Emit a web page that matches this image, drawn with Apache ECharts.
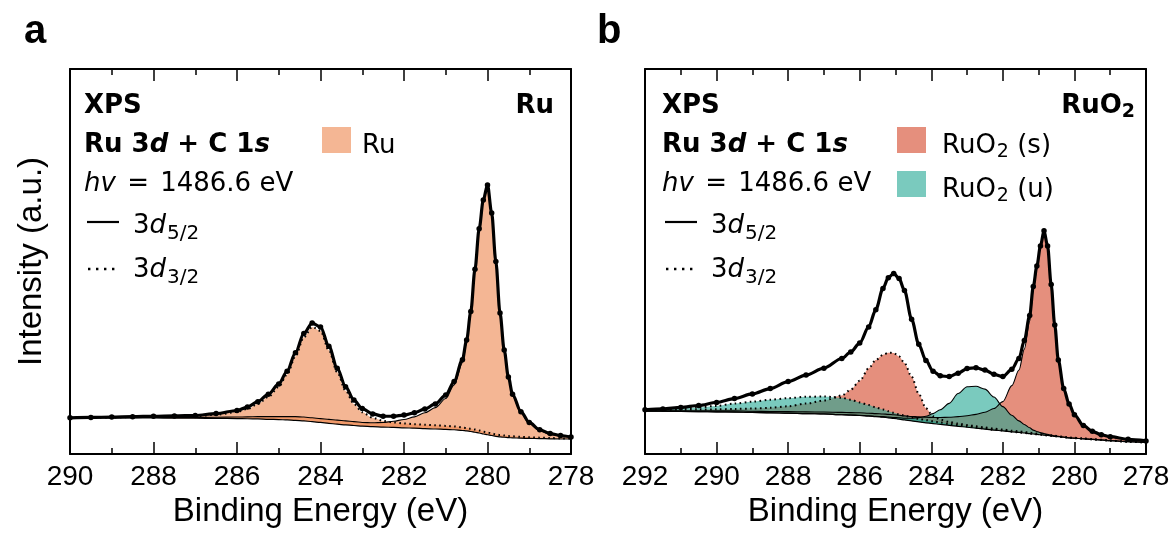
<!DOCTYPE html>
<html><head><meta charset="utf-8">
<script src="https://cdn.jsdelivr.net/npm/echarts@6/dist/echarts.min.js"></script>
<style>html,body{margin:0;padding:0;background:#fff}#c{width:1173px;height:538px}</style>
</head><body><div id="c"></div><script>
// ---------- Panel a (Ru) ----------
const energyA = [290,289.5,289,288.5,288,287.5,287,286.5,286,285.75,285.5,285.25,285,284.8,284.6,284.4,284.2,284.0,283.8,283.6,283.4,283.2,283.0,282.75,282.5,282.25,282.0,281.75,281.5,281.25,281.0,280.8,280.6,280.5,280.4,280.3,280.2,280.1,280.0,279.9,279.8,279.7,279.6,279.5,279.4,279.2,279.0,278.75,278.5,278.25,278.0];
const dataA = [9.4,9.5,9.6,9.7,9.8,9.9,10.0,10.5,11.3,12.2,13.6,15.5,18.2,21.5,26.3,31.3,34.0,33.0,28.0,22.3,17.5,14.0,11.8,10.4,9.8,9.8,10.1,10.7,11.7,13.0,15.3,18.8,24.5,29.6,37.0,48.0,58.5,66.0,69.9,62.6,50.0,36.6,27.0,20.0,15.5,11.0,8.2,6.3,5.3,4.8,4.4];
const bgA = [9.3,9.35,9.4,9.4,9.35,9.3,9.3,9.25,9.2,9.15,9.1,9.0,8.95,8.85,8.75,8.6,8.4,8.2,7.95,7.75,7.55,7.4,7.25,7.1,7.0,6.9,6.8,6.7,6.6,6.5,6.4,6.3,6.1,6.0,5.85,5.65,5.45,5.2,5.0,4.8,4.6,4.45,4.35,4.25,4.2,4.1,4.05,4.0,3.95,3.9,3.9];
const ru52A = [0.05,0.05,0.1,0.1,0.15,0.2,0.2,0.3,0.4,0.5,0.6,0.7,0.75,0.85,0.95,1.0,1.0,1.0,1.05,1.05,1.05,1.0,0.95,1.0,1.2,1.6,2.15,2.95,4.1,5.55,8.0,11.65,17.6,22.85,30.45,41.65,52.4,60.2,64.3,57.25,44.9,31.65,22.2,15.35,10.9,6.55,3.85,2.05,1.15,0.75,0.4];
const ru32A = [0.0,0.05,0.1,0.2,0.3,0.4,0.5,0.95,1.7,2.55,3.9,5.8,8.5,11.8,16.6,21.7,24.6,23.8,19.0,13.5,8.9,5.6,3.6,2.3,1.6,1.3,1.15,1.05,1.0,0.95,0.9,0.85,0.8,0.75,0.7,0.7,0.65,0.6,0.6,0.55,0.5,0.5,0.45,0.4,0.4,0.35,0.3,0.25,0.2,0.15,0.1];

// ---------- Panel b (RuO2) ----------
const energyB = [292,291.5,291,290.5,290,289.5,289,288.5,288,287.5,287,286.5,286.25,286,285.75,285.55,285.35,285.2,285.05,284.9,284.75,284.55,284.35,284.15,283.95,283.75,283.5,283.25,283,282.75,282.5,282.25,282,281.75,281.55,281.4,281.25,281.15,281.05,280.95,280.85,280.75,280.65,280.55,280.45,280.3,280.15,280,279.75,279.5,279.25,279,278.5,278];
const dataB = [11.5,11.7,12.1,12.6,13.4,14.4,15.6,17.0,18.8,20.5,22.3,24.8,26.5,28.8,33.0,37.5,43.0,45.8,46.9,45.6,42.5,35.0,28.5,24.3,21.5,20.3,20.1,21.0,22.2,22.4,21.8,20.7,20.1,22.0,24.8,29.5,36.0,43.5,48.8,54.0,58.0,54.0,44.0,33.5,24.4,17.0,13.0,10.2,7.4,5.9,5.0,4.5,3.8,3.4];
const bgB = [11.1,11.1,11.05,11.0,10.95,10.9,10.8,10.7,10.6,10.5,10.4,10.2,10.1,10.0,9.85,9.7,9.55,9.4,9.25,9.05,8.85,8.6,8.35,8.1,7.9,7.7,7.45,7.2,6.95,6.7,6.45,6.2,6.0,5.75,5.6,5.45,5.3,5.2,5.1,5.0,4.9,4.8,4.7,4.6,4.5,4.35,4.2,4.1,3.95,3.8,3.65,3.45,3.2,3.0];
const s52B = [0.15,0.15,0.2,0.2,0.25,0.3,0.3,0.35,0.4,0.45,0.5,0.6,0.65,0.7,0.75,0.8,0.85,0.9,0.95,1.0,1.05,1.15,1.3,1.45,1.6,1.8,2.1,2.5,3.0,3.6,4.4,5.6,7.6,12.0,16.2,21.8,29.2,37.3,42.9,48.4,52.7,48.9,39.1,28.7,19.8,12.5,8.7,6.0,3.4,2.0,1.3,1.0,0.6,0.4];
const s32B = [0.3,0.35,0.45,0.55,0.65,0.8,1.0,1.3,1.8,2.6,3.5,5.0,6.6,9.0,12.4,14.7,16.2,16.9,17.0,16.3,14.8,11.5,7.3,3.8,1.9,1.25,0.9,0.7,0.6,0.5,0.45,0.4,0.35,0.3,0.3,0.25,0.25,0.2,0.2,0.2,0.2,0.15,0.15,0.15,0.1,0.1,0.1,0.1,0.1,0.05,0.05,0.05,0,0];
const u52B = [0,0,0,0,0,0,0,0,0,0,0,0,0.02,0.05,0.07,0.1,0.15,0.2,0.25,0.35,0.45,0.7,1.1,1.7,2.6,3.8,5.7,8.5,10.5,10.9,10.4,8.6,6.3,4.3,3.0,2.2,1.5,1.0,0.75,0.55,0.4,0.3,0.2,0.15,0.1,0.05,0,0,0,0,0,0,0,0];
const u32B = [0.3,0.45,0.8,1.1,1.55,2.2,2.8,3.4,3.9,4.35,4.55,4.4,4.0,3.4,2.85,2.4,2.0,1.7,1.45,1.25,1.1,0.95,0.8,0.7,0.6,0.5,0.4,0.3,0.25,0.2,0.15,0.1,0.1,0.05,0,0,0,0,0,0,0,0,0,0,0,0,0,0,0,0,0,0,0,0];

const xRangeA = [278, 290];
const xRangeB = [278, 292];
const xTickStep = 2;
const yRange = [0, 100];

const COL_RU = 'rgba(236,134,76,0.6)';
const COL_S = 'rgba(212,68,38,0.6)';
const COL_U = 'rgba(33,167,147,0.6)';
const SM = 0.3;
const TICK_FONT = 'Liberation Sans';
const TXT_FONT = 'DejaVu Sans';

// rows are [intensity, energy] so that stacking happens on the intensity dimension
function rows(xs, ys) { return xs.map((x, i) => [ys[i], x]); }
const ENC = { x: 1, y: 0 };

function band(stackName, ax, xs, base, comp, fill, dotted) {
  return [
    { type: 'line', xAxisIndex: ax, yAxisIndex: ax, stack: stackName, data: rows(xs, base), encode: ENC,
      symbol: 'none', smooth: SM, smoothMonotone: 'x', lineStyle: { opacity: 0, width: 0 }, silent: true, z: 2 },
    { type: 'line', xAxisIndex: ax, yAxisIndex: ax, stack: stackName, data: rows(xs, comp), encode: ENC,
      symbol: 'none', smooth: SM, smoothMonotone: 'x', areaStyle: { color: fill, opacity: 1 },
      lineStyle: dotted ? { color: '#000', width: 2, type: [1.6, 3.4] } : { color: '#000', width: 1.1 },
      silent: true, z: 2 }
  ];
}
function bgLine(ax, xs, ys) {
  return { type: 'line', xAxisIndex: ax, yAxisIndex: ax, data: rows(xs, ys), encode: ENC, symbol: 'none',
    smooth: SM, smoothMonotone: 'x', lineStyle: { color: '#000', width: 1.2 }, silent: true, z: 3 };
}
function dataLine(ax, xs, ys) {
  return { type: 'line', xAxisIndex: ax, yAxisIndex: ax, data: rows(xs, ys), encode: ENC, symbol: 'circle', symbolSize: 5.5,
    smooth: SM, smoothMonotone: 'x', itemStyle: { color: '#000' }, lineStyle: { color: '#000', width: 3.2 },
    silent: true, z: 5 };
}
function xAx(grid, range, top, withName) {
  return {
    type: 'value', gridIndex: grid, min: range[0], max: range[1], interval: xTickStep, inverse: true,
    position: top ? 'top' : 'bottom',
    axisLine: { show: true, onZero: false, lineStyle: { color: '#000', width: 2 } },
    axisTick: { show: true, inside: true, length: 12, lineStyle: { color: '#000', width: 1.5 } },
    minorTick: { show: true, splitNumber: 2, length: 6, lineStyle: { color: '#000', width: 1.5 } },
    axisLabel: { show: !top, fontSize: 28, color: '#000', fontFamily: TICK_FONT, margin: 9 },
    splitLine: { show: false }, minorSplitLine: { show: false },
    name: withName ? 'Binding Energy (eV)' : '', nameLocation: 'middle', nameGap: 37,
    nameTextStyle: { fontSize: 33, color: '#000', fontFamily: TICK_FONT }
  };
}
function yAx(grid, right, withName) {
  return {
    type: 'value', gridIndex: grid, min: yRange[0], max: yRange[1], position: right ? 'right' : 'left',
    axisLine: { show: true, onZero: false, lineStyle: { color: '#000', width: 2 } },
    axisTick: { show: false }, axisLabel: { show: false }, splitLine: { show: false },
    name: withName ? 'Intensity (a.u.)' : '', nameLocation: 'middle', nameGap: 22,
    nameTextStyle: { fontSize: 33, color: '#000', fontFamily: TICK_FONT }
  };
}

const series = [].concat(
  band('a52', 0, energyA, bgA, ru52A, COL_RU, false),
  band('a32', 0, energyA, bgA, ru32A, COL_RU, true),
  [bgLine(0, energyA, bgA), dataLine(0, energyA, dataA)],
  band('s52', 2, energyB, bgB, s52B, COL_S, false),
  band('s32', 2, energyB, bgB, s32B, COL_S, true),
  band('u52', 2, energyB, bgB, u52B, COL_U, false),
  band('u32', 2, energyB, bgB, u32B, COL_U, true),
  [bgLine(2, energyB, bgB), dataLine(2, energyB, dataB)]
);

const F = 26;
const rich = {
  n: { fontFamily: TXT_FONT, fontSize: F, color: '#000', verticalAlign: 'middle' },
  i: { fontFamily: TXT_FONT, fontSize: F, color: '#000', fontStyle: 'italic', verticalAlign: 'middle' },
  eq: { fontFamily: TXT_FONT, fontSize: F, color: '#000', verticalAlign: 'middle', padding: [0, 3, 0, 3] },
  b: { fontFamily: TXT_FONT, fontSize: F, color: '#000', fontWeight: 'bold', verticalAlign: 'middle' },
  bi: { fontFamily: TXT_FONT, fontSize: F, color: '#000', fontWeight: 'bold', fontStyle: 'italic', verticalAlign: 'middle' },
  sub: { fontFamily: TXT_FONT, fontSize: 20, color: '#000', verticalAlign: 'middle', padding: [16, 0, 0, 1] },
  bsub: { fontFamily: TXT_FONT, fontSize: 19, color: '#000', fontWeight: 'bold', verticalAlign: 'middle', padding: [12, 0, 0, 0] },
  nsub: { fontFamily: TXT_FONT, fontSize: 19, color: '#000', verticalAlign: 'middle', padding: [12, 0, 0, 1] }
};
function txt(x, y, text, align) {
  return { type: 'text', x: x, y: y, silent: true, z: 50,
    style: { text: text, rich: rich, align: align || 'left', verticalAlign: 'middle' } };
}
function rect(x, y, w, h, c) {
  return { type: 'rect', shape: { x: x, y: y, width: w, height: h }, style: { fill: c }, silent: true, z: 50 };
}
function seg(x1, x2, y, dotted) {
  return { type: 'line', shape: { x1: x1, y1: y, x2: x2, y2: y }, silent: true, z: 50,
    style: dotted ? { stroke: '#000', lineWidth: 2.4, lineDash: [2.4, 5.6] } : { stroke: '#000', lineWidth: 2.2 } };
}
function legendBlock(x0) {
  return [
    txt(x0, 106, '{b|XPS}'),
    txt(x0, 145, '{b|Ru 3}{bi|d}{b| + C 1}{bi|s}'),
    txt(x0, 184, '{i|hv}{n| }{eq|=}{n| 1486.6 eV}'),
    seg(x0 + 3, x0 + 35, 222, false),
    txt(x0 + 49, 226, '{n|3}{i|d}{sub|5/2}'),
    seg(x0 + 4, x0 + 33, 269, true),
    txt(x0 + 49, 270, '{n|3}{i|d}{sub|3/2}')
  ];
}
const graphics = [
  { type: 'text', x: 24, y: 32, silent: true, z: 50,
    style: { text: 'a', fontFamily: TICK_FONT, fontWeight: 'bold', fontSize: 40, fill: '#000', verticalAlign: 'middle' } },
  { type: 'text', x: 597, y: 32, silent: true, z: 50,
    style: { text: 'b', fontFamily: TICK_FONT, fontWeight: 'bold', fontSize: 40, fill: '#000', verticalAlign: 'middle' } }
].concat(
  legendBlock(84),
  [txt(554, 106, '{b|Ru}', 'right'),
   rect(322, 127, 29, 26, COL_RU),
   txt(362, 146, '{n|Ru}')],
  legendBlock(662),
  [txt(1135, 106, '{b|RuO}{bsub|2}', 'right'),
   rect(897, 127, 29, 26, COL_S),
   txt(942, 146, '{n|RuO}{nsub|2}{n| (s)}'),
   rect(897, 171, 29, 26, COL_U),
   txt(942, 190, '{n|RuO}{nsub|2}{n| (u)}')]
);

const chart = echarts.init(document.getElementById('c'), null, { renderer: 'canvas' });
chart.setOption({
  animation: false,
  backgroundColor: '#fff',
  grid: [
    { left: 70, right: 602, top: 69, bottom: 84 },
    { left: 645, right: 27, top: 69, bottom: 84 }
  ],
  xAxis: [xAx(0, xRangeA, false, true), xAx(0, xRangeA, true, false),
          xAx(1, xRangeB, false, true), xAx(1, xRangeB, true, false)],
  yAxis: [yAx(0, false, true), yAx(0, true, false), yAx(1, false, false), yAx(1, true, false)],
  series: series,
  graphic: graphics
});
</script></body></html>
